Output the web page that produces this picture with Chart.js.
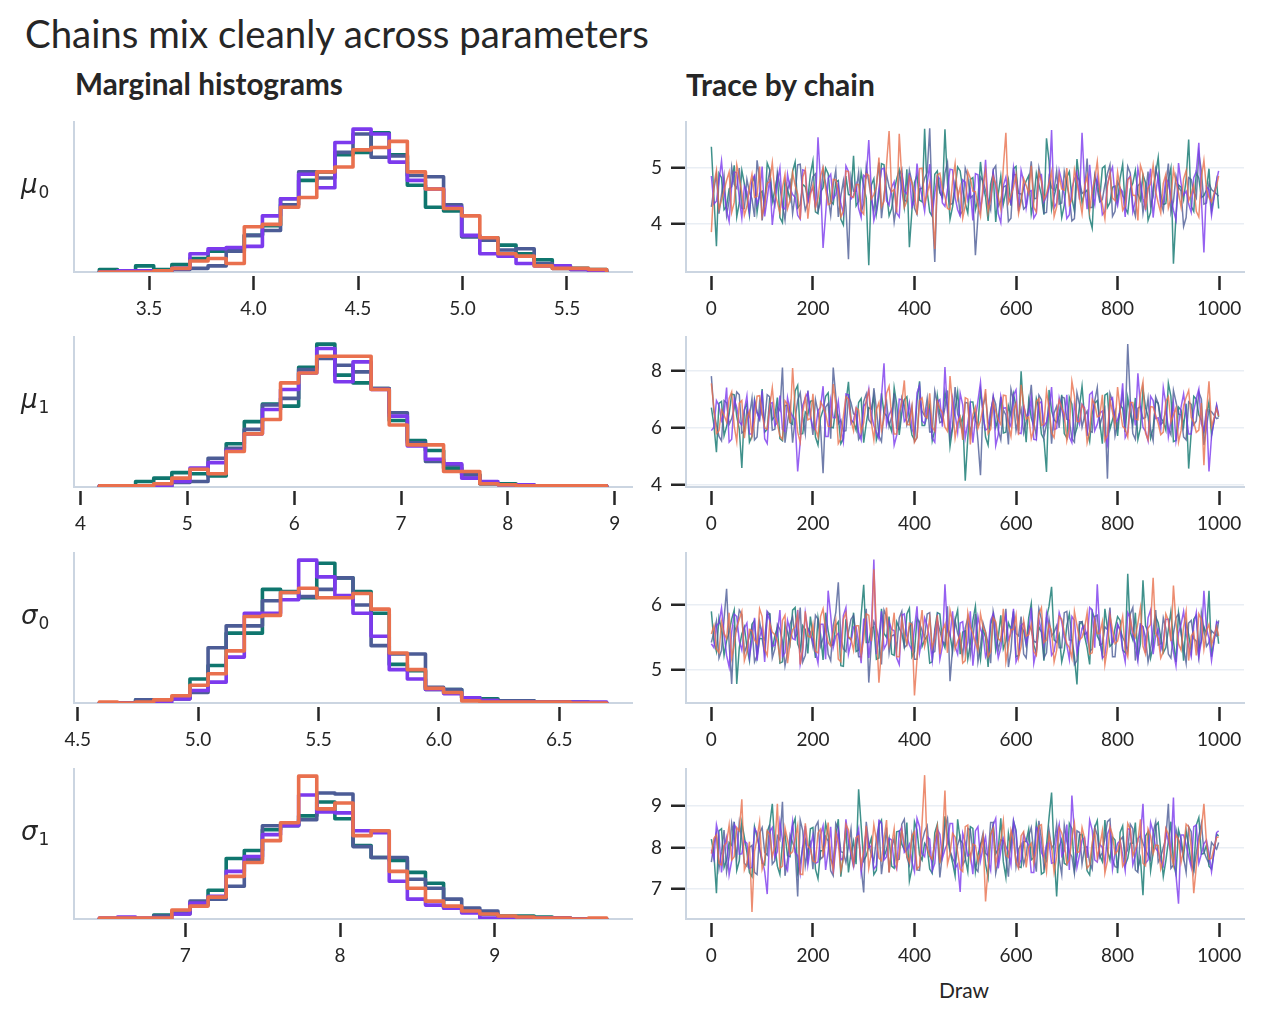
<!DOCTYPE html>
<html><head><meta charset="utf-8">
<script src="https://cdn.jsdelivr.net/npm/chart.js@4.4.1/dist/chart.umd.min.js"></script>
<style>
html,body{margin:0;padding:0;background:#fff;}
body{width:1263px;height:1023px;position:relative;overflow:hidden;font-family:Lato,"Noto Sans",sans-serif;color:#262626;}
.t{position:absolute;white-space:nowrap;line-height:1;}
canvas{position:absolute;}
.pl{position:absolute;left:21px;font-size:26px;line-height:1;white-space:nowrap;}
.pl i{font-family:"DejaVu Sans";font-style:italic;}
.pl sub{font-family:"DejaVu Sans";font-size:17px;vertical-align:baseline;position:relative;top:5px;margin-left:1px;}
</style></head><body>
<div id="title" class="t" style="left:25px;top:14px;font-size:34px;">Chains mix cleanly across parameters</div>
<div id="sub1" class="t" style="left:75px;top:69px;font-size:26px;font-weight:bold;">Marginal histograms</div>
<div id="sub2" class="t" style="left:686px;top:69px;font-size:26px;font-weight:bold;">Trace by chain</div>
<div id="xlab" class="t" style="left:964px;top:979px;font-size:21px;transform:translateX(-50%);">Draw</div>
<div id="stage"></div>
<script>
// ---------- data ----------
const chainColors = ['#0f766e', '#4c5c96', '#7c3aed', '#e9704e'];
const traceColors = ['rgba(15,118,110,0.8)', 'rgba(76,92,150,0.8)', 'rgba(124,58,237,0.8)', 'rgba(233,112,78,0.8)'];
const paramNames = ['μ', 'μ', 'σ', 'σ'];
const paramSubs = ['0', '1', '0', '1'];

// histogram data range (min, max of pooled draws) per parameter
const histLo = [3.262, 4.176, 4.590, 6.444];
const histHi = [5.690, 8.925, 6.697, 9.724];

// bin counts (28 bins) per chain: teal, slate, purple, orange
const mu0Hist = [
  [2,1,5,2,6,11,17,19,30,38,60,75,82,96,98,114,96,71,53,50,29,28,22,15,10,5,3,2],
  [0,0,1,1,2,3,5,17,30,34,55,82,77,98,113,94,95,79,78,55,29,26,18,19,7,3,2,1],
  [0,1,1,1,3,15,19,20,21,46,60,80,69,106,117,113,90,75,68,53,30,15,13,7,5,5,2,1],
  [0,0,0,1,3,9,11,7,37,39,53,61,82,86,100,102,107,82,68,52,46,28,15,13,5,3,3,2]
];
const mu1Hist = [
  [1,1,5,8,13,12,10,39,59,75,73,108,129,101,94,89,60,42,33,17,11,3,3,1,1,1,1,1],
  [1,1,1,1,4,5,26,35,52,74,80,106,116,110,104,89,67,40,23,20,11,3,2,2,1,1,1,1],
  [1,1,1,1,5,17,22,33,48,70,88,103,125,95,113,88,64,37,25,21,8,5,2,2,1,1,1,1],
  [1,1,1,3,8,16,12,32,48,61,94,103,118,118,118,88,56,38,38,14,14,3,2,1,1,1,1,1]
];
const sigma0Hist = [
  [0,0,3,3,5,23,36,67,67,109,107,101,134,120,107,86,37,31,13,13,5,4,2,2,1,1,0,0],
  [0,0,3,3,4,10,53,74,74,98,106,102,109,120,94,55,47,47,15,13,5,3,2,2,1,1,1,0],
  [0,0,0,1,4,12,20,44,86,86,99,137,121,103,86,64,32,23,13,9,5,2,1,1,1,1,1,1],
  [1,0,1,3,7,17,28,50,83,84,106,110,101,101,105,90,48,32,14,10,2,1,1,1,1,1,0,0]
];
const sigma1Hist = [
  [0,0,0,4,6,14,29,61,69,90,94,104,118,101,74,62,59,47,36,11,7,5,3,3,2,1,0,0],
  [0,0,0,3,5,18,20,33,60,94,95,100,127,126,73,62,62,40,31,20,11,8,2,1,1,1,0,0],
  [1,2,1,1,5,16,23,48,63,85,94,125,108,107,89,87,38,20,14,11,6,1,1,1,1,1,0,0],
  [1,1,1,1,9,13,22,43,57,79,97,144,111,117,84,89,48,31,18,13,8,5,3,2,1,1,0,1]
];

const histTickLabels = [
  ['3.5','4.0','4.5','5.0','5.5'],
  ['4','5','6','7','8','9'],
  ['4.5','5.0','5.5','6.0','6.5'],
  ['7','8','9']
];
const traceYTickLabels = [['4','5'], ['4','6','8'], ['5','6'], ['7','8','9']];
const drawTickLabels = ['0','200','400','600','800','1000'];

// draw indices of the recorded trace values
const draws = Array.from({length: 99}, (_, i) => i * 10).concat([999]);
const drawsMid = Array.from({length: 100}, (_, i) => i * 10 + 5);

const mu0Trace = [
  [5.37,3.60,4.82,4.31,4.66,4.12,4.95,4.47,4.73,4.20, 4.58,5.08,4.39,4.85,4.02,4.61,4.93,4.28,4.70,4.45,
   5.12,4.18,4.64,4.89,4.35,4.77,3.98,4.52,5.21,4.40, 4.67,3.26,4.80,4.49,5.05,4.14,4.59,4.96,4.30,3.58,
   4.73,4.42,5.69,4.21,4.88,4.55,5.68,4.08,4.62,4.94, 4.36,4.79,4.25,5.10,4.48,4.70,4.03,4.85,4.57,4.32,
   5.02,4.44,4.76,4.17,4.90,4.51,5.52,4.26,4.68,4.11, 4.83,4.46,5.15,4.37,4.60,3.92,4.74,4.99,4.29,4.65,
   4.41,5.06,4.19,4.72,4.53,4.87,4.06,4.63,5.18,4.34, 4.78,3.29,4.69,4.43,5.50,4.22,4.81,4.50,4.98,4.27],
  [4.30,4.88,4.52,4.15,5.01,4.63,4.27,4.79,4.44,5.13, 4.06,4.71,4.48,4.92,4.33,4.60,4.18,5.05,4.55,4.38,
   4.84,4.24,4.97,4.47,4.69,4.12,4.76,3.37,4.58,4.91, 4.36,4.74,4.21,5.09,4.50,4.66,4.03,4.86,4.42,4.95,
   4.28,4.62,4.81,5.70,3.32,4.57,4.90,4.34,4.73,4.16, 4.99,4.46,3.44,4.83,4.59,4.25,5.03,4.41,4.68,4.10,
   4.87,4.53,4.31,5.11,4.45,4.77,4.20,4.64,4.94,4.37, 4.70,4.05,4.85,4.54,5.16,4.29,4.61,4.43,4.89,4.13,
   4.75,4.50,5.02,4.32,4.67,4.19,4.93,4.48,4.80,4.23, 5.07,4.40,4.65,3.95,4.82,4.56,5.25,4.35,4.72,4.49],
  [4.85,4.40,5.12,4.23,4.68,4.91,4.10,4.57,4.78,4.34, 5.02,4.46,3.98,4.73,4.29,4.88,4.52,4.15,4.96,4.38,
   4.64,5.54,3.57,4.81,4.44,4.70,4.19,4.93,4.50,4.27, 4.86,5.49,4.06,4.62,4.99,4.33,4.75,4.12,4.58,4.90,
   4.41,4.69,4.22,5.06,4.55,4.80,4.31,4.97,4.47,4.14, 4.74,4.60,4.89,4.25,5.14,4.43,4.66,4.02,4.83,4.36,
   4.71,4.95,4.28,4.59,4.18,4.87,4.49,5.67,4.37,4.76, 4.09,4.63,4.92,5.62,4.26,4.54,4.84,4.16,4.70,5.01,
   4.32,4.57,4.79,4.21,4.98,4.45,4.67,4.11,4.86,4.39, 4.73,4.24,5.08,4.51,4.35,4.82,5.44,3.49,4.61,4.94],
  [3.85,4.95,4.42,4.77,4.20,5.05,4.56,4.31,4.88,4.49, 4.14,4.72,5.09,4.38,4.64,4.27,4.91,4.53,4.83,4.09,
   4.69,4.45,5.00,4.34,4.79,4.58,4.22,4.93,4.47,4.70, 4.17,4.86,4.52,5.18,4.40,5.65,4.61,5.60,4.29,4.84,
   4.55,4.98,4.36,4.73,3.55,4.90,4.48,4.25,5.07,4.66, 4.32,4.81,4.57,4.13,4.95,4.44,4.71,4.26,5.62,4.50,
   4.87,4.39,4.68,5.03,4.21,4.76,4.54,4.93,4.30,4.62, 4.99,4.43,4.74,4.18,4.85,4.59,5.11,4.35,4.67,4.46,
   4.92,4.24,4.78,4.51,4.06,4.89,4.63,5.04,4.37,4.72, 4.28,4.96,4.55,4.80,4.41,4.69,4.12,5.13,4.47,4.85]
];
const mu0TraceMid = [
  [4.48,4.90,4.25,4.62,5.04,4.37,4.71,4.15,4.83,4.54, 4.29,4.96,4.60,4.11,4.77,4.43,5.10,4.34,4.66,4.88,
   4.21,4.57,4.99,4.40,4.74,4.08,4.85,4.51,4.32,4.92, 4.45,4.69,4.18,5.07,4.56,4.27,4.80,4.63,4.97,4.24,
   4.87,4.39,4.58,4.13,4.94,4.47,4.72,4.30,5.01,4.61, 4.19,4.82,4.44,4.68,4.05,4.90,4.53,4.35,4.78,4.98,
   4.26,4.64,4.86,4.41,4.70,4.16,5.12,4.49,4.59,4.33, 4.93,4.22,4.75,4.55,4.10,4.84,4.46,5.03,4.38,4.67,
   4.81,4.28,4.62,4.95,4.42,4.73,4.20,4.89,4.52,4.36, 4.99,4.14,4.65,4.79,4.31,4.91,4.47,4.60,4.23,4.76],
  [4.62,4.18,4.85,4.41,4.70,4.99,4.27,4.56,4.12,4.80, 4.47,4.93,4.33,4.66,4.07,4.75,4.52,5.06,4.24,4.61,
   4.89,4.38,4.72,4.15,4.95,4.49,4.30,4.83,4.58,4.21, 5.02,4.44,4.68,4.10,4.87,4.55,4.34,4.97,4.40,4.74,
   4.17,4.63,4.91,4.28,4.79,4.46,5.09,4.36,4.59,4.23, 4.84,4.50,4.13,4.76,4.42,4.96,4.31,4.65,4.04,4.88,
   4.54,4.26,4.71,4.45,5.00,4.19,4.82,4.60,4.35,4.93, 4.48,4.09,4.77,4.57,4.29,4.86,4.39,4.69,5.05,4.22,
   4.64,4.43,4.90,4.14,4.73,4.51,4.32,4.98,4.40,4.67, 4.20,4.85,4.58,4.11,4.79,4.46,4.94,4.37,4.61,4.53],
  [4.35,4.76,4.59,4.04,4.92,4.45,4.67,4.21,4.86,4.50, 4.13,4.80,4.38,4.99,4.26,4.63,4.47,4.08,4.94,4.56,
   4.29,4.73,4.17,4.88,4.52,4.36,5.03,4.44,4.69,4.11, 4.82,4.58,4.24,4.97,4.41,4.65,4.19,4.90,4.53,4.30,
   5.07,4.48,4.71,4.14,4.84,4.37,4.61,4.96,4.25,4.78, 4.42,4.06,4.87,4.55,4.33,4.91,4.18,4.68,4.46,5.00,
   4.23,4.75,4.57,4.10,4.83,4.39,4.64,4.28,4.95,4.51, 4.16,4.79,4.43,4.70,5.05,4.34,4.60,4.22,4.89,4.47,
   4.63,4.12,4.85,4.40,4.74,4.27,4.98,4.54,4.31,4.81, 4.49,4.07,4.72,4.58,4.20,4.93,4.44,4.66,4.15,4.77],
  [4.70,4.26,4.59,4.92,4.38,4.81,4.15,4.64,4.47,5.02, 4.33,4.75,4.55,4.19,4.88,4.42,4.68,4.08,4.97,4.51,
   4.28,4.85,4.61,4.36,4.78,4.12,4.94,4.49,4.70,4.23, 4.89,4.44,4.66,4.30,5.06,4.57,4.20,4.82,4.40,4.73,
   4.16,4.99,4.52,4.35,4.87,4.62,4.27,4.76,4.45,4.10, 4.93,4.58,4.31,4.69,4.21,4.84,4.48,5.01,4.37,4.65,
   4.18,4.80,4.54,4.29,4.91,4.43,4.72,4.13,4.86,4.60, 4.34,4.96,4.46,4.67,4.24,4.79,4.56,4.09,4.90,4.41,
   4.63,4.32,4.83,4.50,5.04,4.25,4.71,4.57,4.19,4.88, 4.44,4.74,4.30,4.95,4.53,4.22,4.81,4.62,4.39,4.68]
];
const mu1Trace = [
  [6.70,5.15,6.92,6.05,7.18,6.40,4.60,6.85,5.70,6.55, 7.35,5.95,6.28,7.05,5.55,6.78,6.12,7.48,5.80,6.45,
   6.95,5.40,6.62,7.22,6.00,6.38,5.62,7.60,6.20,6.88, 5.48,6.70,7.12,5.88,6.52,6.15,7.40,5.75,6.98,6.30,
   5.58,7.62,6.08,6.80,5.92,6.48,7.25,5.35,6.65,6.10, 4.16,6.90,6.25,7.30,5.68,6.58,6.02,7.08,5.85,6.42,
   6.75,7.97,5.50,6.35,7.02,5.78,4.46,6.60,6.18,7.15, 5.65,6.82,6.00,7.45,5.90,6.50,6.95,5.45,7.20,6.28,
   5.72,6.68,7.05,6.12,5.60,7.35,6.40,5.98,6.85,6.22, 7.55,5.52,6.72,6.05,4.58,7.10,6.45,5.82,6.90,6.38],
  [7.80,6.10,5.55,6.88,6.32,7.25,5.82,6.60,7.02,5.68, 6.45,7.15,5.92,6.72,8.10,6.20,5.48,6.95,6.38,7.30,
   5.75,6.55,4.42,6.85,8.10,6.15,5.88,7.10,6.48,5.60, 6.92,6.28,7.38,5.72,6.62,6.05,7.20,5.95,6.78,6.35,
   5.52,7.05,6.42,5.85,7.28,6.18,6.70,5.65,7.42,6.25, 6.88,5.78,6.50,4.35,7.12,6.08,6.82,5.58,6.45,7.35,
   5.90,6.65,6.22,7.50,5.70,6.98,6.12,5.45,6.75,7.08, 6.30,5.62,7.22,6.02,6.58,5.85,7.40,6.40,4.23,6.92,
   6.15,7.18,8.92,5.80,6.68,6.32,7.02,5.55,6.85,6.20, 5.98,7.30,6.48,5.68,6.90,6.10,7.25,5.40,6.62,6.35],
  [5.90,6.95,6.25,7.40,5.60,6.70,6.10,7.12,5.78,6.52, 7.30,5.45,6.88,6.18,5.95,7.05,6.40,4.48,6.78,7.22,
   6.02,6.60,7.45,5.70,6.35,6.92,5.52,7.15,6.28,5.85, 6.75,7.35,6.08,5.62,8.25,6.45,5.40,7.00,6.22,6.85,
   5.75,7.48,6.15,6.62,5.50,6.98,8.12,5.88,6.48,7.20, 5.65,6.80,6.32,7.58,5.92,6.55,5.38,7.10,6.70,6.05,
   7.32,5.80,6.42,7.02,5.58,6.90,6.20,7.42,5.98,6.65, 7.15,5.48,6.38,6.82,5.72,7.25,6.12,6.58,5.42,7.05,
   6.28,7.55,5.85,6.72,7.90,6.02,5.55,6.95,6.35,7.40, 5.68,6.85,6.10,7.18,5.78,6.60,7.35,5.90,4.48,6.45],
  [7.55,5.80,6.62,6.20,7.25,5.52,6.95,6.35,5.72,7.10, 6.48,5.95,7.40,6.15,5.60,6.82,8.08,5.85,6.55,6.28,
   7.18,5.68,6.75,6.05,7.52,5.45,6.40,7.00,5.90,6.62, 6.18,7.28,5.58,6.88,6.32,7.45,5.78,6.52,7.65,6.10,
   5.50,6.95,6.42,7.20,5.88,6.68,6.02,7.80,5.65,6.38, 7.05,5.42,6.72,6.25,7.35,5.95,6.58,6.12,7.12,5.70,
   6.85,7.50,6.30,5.62,6.92,6.08,7.28,5.82,6.48,6.70, 5.55,7.62,6.22,6.80,5.48,6.98,6.38,7.15,5.75,6.55,
   7.42,6.05,5.68,6.88,6.28,7.60,5.58,6.72,6.15,5.85, 7.08,6.45,5.50,6.78,7.30,6.20,5.92,4.70,7.62,6.40]
];
const mu1TraceMid = [
  [6.10,6.85,5.72,6.48,7.15,5.95,6.62,5.50,6.98,6.30, 5.85,7.05,6.40,5.62,6.78,6.18,7.28,5.78,6.55,6.92,
   5.68,6.35,7.10,6.02,6.70,5.45,6.88,6.25,5.92,7.02, 6.15,6.65,5.58,7.20,6.42,5.88,6.82,6.50,7.08,5.75,
   6.95,6.08,6.45,5.55,7.12,6.22,6.72,5.98,7.25,6.38, 5.65,6.90,6.12,6.60,5.40,7.00,6.32,5.82,6.76,7.18,
   5.90,6.52,6.96,6.05,6.68,5.60,7.32,6.28,6.44,5.80, 7.06,5.70,6.74,6.36,5.52,6.86,6.20,7.14,5.95,6.58,
   6.80,5.86,6.48,7.04,6.00,6.70,5.64,6.94,6.34,5.92, 7.10,5.56,6.62,6.84,5.84,7.00,6.26,6.46,5.74,6.76],
  [6.55,5.70,6.95,6.12,6.68,7.15,5.88,6.40,5.58,6.90, 6.25,7.08,5.95,6.60,5.48,6.78,6.32,7.22,5.80,6.50,
   6.98,6.05,6.72,5.62,7.12,6.28,5.90,6.88,6.45,5.75, 7.18,6.15,6.65,5.52,6.92,6.38,5.98,7.05,6.10,6.75,
   5.65,6.58,7.02,5.85,6.82,6.22,7.30,6.02,6.48,5.78, 6.86,6.30,5.55,6.76,6.18,7.10,5.92,6.62,5.42,6.96,
   6.35,5.82,6.70,6.20,7.14,5.68,6.88,6.52,6.00,7.04, 6.26,5.50,6.80,6.42,5.88,6.94,6.08,6.66,7.20,5.72,
   6.60,6.16,6.98,5.60,6.74,6.36,5.94,7.08,6.12,6.64, 5.76,6.90,6.44,5.58,6.82,6.24,7.00,6.04,6.56,6.32],
  [6.02,6.78,6.48,5.50,7.00,6.20,6.62,5.78,6.92,6.30, 5.62,6.84,6.08,7.12,5.88,6.58,6.26,5.52,7.05,6.40,
   5.92,6.72,5.70,6.96,6.36,6.00,7.18,6.14,6.66,5.58, 6.88,6.46,5.84,7.08,6.10,6.64,5.74,6.98,6.34,5.96,
   7.22,6.24,6.70,5.64,6.90,6.04,6.54,7.02,5.86,6.80, 6.16,5.48,6.94,6.38,5.98,7.06,5.76,6.68,6.22,7.14,
   5.82,6.76,6.44,5.60,6.86,6.06,6.60,5.94,7.04,6.28, 5.68,6.82,6.12,6.70,7.16,5.90,6.52,5.80,6.96,6.18,
   6.58,5.66,6.92,6.08,6.74,5.88,7.10,6.32,5.96,6.84, 6.22,5.54,6.72,6.46,5.78,7.02,6.14,6.64,5.70,6.80],
  [6.68,5.90,6.44,7.02,6.06,6.86,5.64,6.58,6.24,7.12, 6.00,6.76,6.40,5.72,6.94,6.16,6.66,5.50,7.06,6.32,
   5.96,6.90,6.50,6.04,6.80,5.62,7.08,6.26,6.70,5.84, 6.96,6.20,6.62,5.92,7.20,6.42,5.78,6.88,6.12,6.74,
   5.68,7.04,6.34,6.02,6.92,6.52,5.88,6.78,6.18,5.58, 7.00,6.46,5.98,6.72,5.80,6.90,6.28,7.14,6.08,6.60,
   5.74,6.84,6.38,5.94,7.02,6.14,6.70,5.66,6.96,6.48, 6.00,7.10,6.22,6.64,5.86,6.82,6.42,5.56,6.98,6.10,
   6.62,5.96,6.88,6.30,7.16,5.82,6.74,6.44,5.76,6.92, 6.20,6.70,5.90,7.06,6.36,5.84,6.86,6.52,6.04,6.66]
];
const sigma0Trace = [
  [5.90,5.28,5.62,5.45,5.78,4.78,5.55,5.35,5.70,5.20, 5.48,5.85,5.32,5.65,5.12,5.58,5.92,5.40,5.68,5.25,
   5.52,5.80,5.15,5.60,5.38,5.74,5.05,5.50,5.88,5.30, 6.31,5.42,5.66,5.18,5.56,5.82,5.22,5.64,5.36,5.95,
   5.28,5.72,5.46,5.10,5.62,5.86,5.34,5.54,5.76,5.24, 5.60,5.40,5.98,5.16,5.50,5.70,5.30,5.84,5.44,5.62,
   5.20,5.66,5.38,6.02,5.26,5.58,5.80,6.28,5.42,5.12, 5.68,5.48,4.77,5.74,5.34,5.90,5.52,5.22,5.64,5.40,
   5.82,5.30,6.48,5.46,5.18,6.38,5.58,5.36,5.72,5.26, 5.62,5.44,5.88,5.14,5.54,5.78,5.32,5.66,6.22,5.40],
  [5.42,5.75,5.30,6.25,4.78,5.60,5.85,5.38,5.66,5.22, 5.52,5.90,5.18,5.70,5.44,5.28,5.82,5.56,5.12,5.64,
   5.36,5.78,5.48,5.24,5.68,6.35,5.32,5.58,5.84,5.20, 5.62,4.80,5.74,5.46,5.92,5.26,5.54,5.80,5.34,5.66,
   5.16,5.72,5.50,5.88,5.28,5.60,5.40,4.82,5.76,5.44, 5.64,5.22,5.86,5.36,5.58,5.10,5.70,5.48,5.94,5.30,
   5.56,5.82,5.18,5.62,5.42,5.78,5.26,5.52,5.68,5.34, 5.90,5.46,5.14,5.74,5.58,5.32,5.84,5.40,5.62,5.20,
   5.70,5.50,5.28,5.96,5.44,5.66,5.12,5.60,5.38,5.80, 5.24,5.56,5.86,5.34,5.72,5.48,5.18,5.64,5.42,5.76],
  [5.40,5.68,5.95,5.22,5.58,5.82,5.30,5.72,5.46,5.14, 5.64,5.88,5.36,5.54,5.20,5.76,5.48,5.92,5.28,5.62,
   5.44,5.10,5.70,6.22,5.34,5.56,5.84,5.24,5.66,5.42, 5.78,5.18,6.70,5.50,5.32,5.74,5.60,5.08,5.86,5.38,
   5.64,5.26,5.80,5.46,5.58,5.16,6.32,5.52,5.36,5.72, 5.28,5.90,5.44,5.62,5.20,5.76,5.48,5.34,5.84,5.56,
   5.12,5.68,5.40,5.96,5.30,5.60,5.86,5.22,5.54,5.74, 5.38,5.82,5.26,5.64,5.46,5.92,6.32,5.18,5.58,5.42,
   5.70,5.32,5.88,5.50,5.14,5.66,5.80,5.24,5.62,5.44, 5.78,5.28,5.56,5.90,5.36,5.68,5.20,6.22,5.48,5.72],
  [5.55,5.32,5.74,5.48,5.18,5.66,5.90,5.28,5.60,5.40, 5.82,5.22,5.58,5.44,5.76,5.10,5.62,5.86,5.34,5.52,
   5.70,5.26,5.94,5.42,5.58,5.16,5.78,5.50,5.30,5.68, 5.46,5.84,6.55,4.80,5.64,5.38,5.88,5.20,5.56,5.72,
   4.60,5.60,5.36,5.80,5.48,5.24,5.70,5.92,5.32,5.54, 5.14,5.66,5.42,5.86,5.58,5.28,5.74,5.44,5.12,5.62,
   5.84,5.36,5.52,5.70,5.22,5.96,5.46,5.60,5.30,5.78, 5.40,5.18,5.68,5.50,5.88,5.26,5.56,5.74,5.34,5.62,
   5.44,5.82,5.20,5.58,5.72,5.36,5.64,6.42,5.48,5.28, 5.76,6.30,5.40,5.66,5.14,5.58,5.86,5.32,5.70,5.52]
];
const sigma0TraceMid = [
  [5.44,5.80,5.22,5.58,5.92,5.34,5.66,5.14,5.76,5.48, 5.26,5.86,5.52,5.10,5.70,5.40,5.96,5.30,5.62,5.82,
   5.18,5.54,5.88,5.38,5.68,5.06,5.78,5.46,5.28,5.84, 5.42,5.64,5.16,5.94,5.50,5.24,5.74,5.56,5.86,5.20,
   5.80,5.36,5.52,5.12,5.88,5.44,5.66,5.28,5.92,5.58, 5.16,5.76,5.42,5.62,5.04,5.84,5.50,5.32,5.72,5.90,
   5.22,5.60,5.80,5.38,5.66,5.14,5.98,5.46,5.54,5.30, 5.86,5.20,5.70,5.52,5.08,5.78,5.44,5.94,5.36,5.64,
   5.76,5.26,5.58,5.88,5.40,5.68,5.18,5.82,5.50,5.34, 5.90,5.12,5.62,5.74,5.28,5.84,5.44,5.56,5.20,5.70],
  [5.58,5.18,5.78,5.40,5.66,5.92,5.26,5.52,5.12,5.74, 5.46,5.86,5.32,5.62,5.06,5.70,5.50,5.96,5.22,5.58,
   5.84,5.36,5.68,5.14,5.88,5.48,5.28,5.78,5.54,5.20, 5.94,5.42,5.64,5.08,5.82,5.52,5.32,5.90,5.38,5.72,
   5.16,5.60,5.86,5.26,5.76,5.44,5.98,5.34,5.56,5.22, 5.80,5.48,5.12,5.72,5.40,5.90,5.30,5.62,5.04,5.84,
   5.52,5.24,5.68,5.44,5.94,5.18,5.78,5.58,5.34,5.88, 5.46,5.08,5.74,5.54,5.28,5.82,5.38,5.66,5.96,5.20,
   5.62,5.42,5.86,5.14,5.70,5.50,5.32,5.92,5.40,5.64, 5.18,5.80,5.56,5.10,5.76,5.44,5.88,5.36,5.60,5.52],
  [5.34,5.72,5.56,5.04,5.86,5.44,5.64,5.20,5.80,5.50, 5.12,5.76,5.38,5.92,5.26,5.60,5.46,5.08,5.88,5.54,
   5.28,5.70,5.16,5.84,5.52,5.36,5.96,5.42,5.66,5.10, 5.78,5.56,5.24,5.90,5.40,5.62,5.18,5.84,5.52,5.30,
   5.98,5.48,5.68,5.14,5.80,5.36,5.60,5.90,5.24,5.74, 5.42,5.06,5.82,5.54,5.32,5.86,5.18,5.66,5.46,5.94,
   5.22,5.72,5.56,5.10,5.78,5.38,5.62,5.28,5.88,5.50, 5.16,5.76,5.42,5.68,5.96,5.34,5.58,5.22,5.84,5.46,
   5.60,5.12,5.80,5.40,5.70,5.26,5.92,5.52,5.30,5.78, 5.48,5.06,5.70,5.56,5.20,5.88,5.44,5.64,5.14,5.74],
  [5.68,5.26,5.56,5.88,5.38,5.78,5.14,5.62,5.46,5.94, 5.32,5.72,5.54,5.18,5.84,5.42,5.66,5.08,5.90,5.50,
   5.28,5.82,5.60,5.36,5.76,5.12,5.88,5.48,5.68,5.22, 5.86,5.44,5.64,5.30,5.96,5.56,5.20,5.78,5.40,5.70,
   5.16,5.92,5.52,5.34,5.84,5.60,5.26,5.74,5.44,5.10, 5.88,5.56,5.30,5.66,5.20,5.80,5.48,5.94,5.36,5.62,
   5.18,5.76,5.54,5.28,5.86,5.42,5.70,5.12,5.82,5.58, 5.34,5.90,5.46,5.64,5.24,5.76,5.56,5.08,5.84,5.40,
   5.62,5.32,5.80,5.50,5.96,5.24,5.70,5.56,5.18,5.86, 5.44,5.72,5.30,5.90,5.52,5.22,5.78,5.60,5.38,5.66]
];
const sigma1Trace = [
  [8.20,6.90,8.45,7.70,8.05,7.45,8.60,7.88,7.30,8.25, 7.62,8.38,9.05,7.55,8.12,7.80,8.52,7.38,8.00,7.72,
   8.48,7.25,7.92,8.30,7.58,8.68,7.85,7.40,8.15,9.40, 7.68,8.02,7.35,8.55,7.78,8.22,7.50,8.40,7.95,7.20,
   8.62,7.82,8.10,7.48,8.35,7.65,8.75,7.90,7.32,8.18, 7.75,8.50,7.42,8.08,7.60,8.28,7.85,8.70,7.28,7.98,
   8.42,7.52,8.15,7.70,8.58,7.36,8.05,9.32,6.82,8.20, 7.58,8.45,7.80,8.32,7.44,8.00,8.65,7.66,7.92,8.25,
   7.38,8.52,7.74,8.10,7.50,6.85,8.38,7.88,8.60,7.30, 8.15,7.62,8.42,7.78,8.05,7.45,8.72,7.86,7.55,8.28],
  [7.65,8.35,7.90,7.42,8.58,7.75,8.20,7.55,8.05,7.35, 8.48,7.82,7.60,8.28,9.10,7.70,8.12,6.82,8.40,7.95,
   7.48,8.62,7.78,8.15,7.32,8.45,7.88,8.02,7.52,8.30, 6.92,8.10,7.68,8.55,7.85,7.40,8.22,7.72,8.68,7.58,
   8.00,7.45,8.38,7.80,8.12,7.28,8.50,7.92,7.62,8.25, 7.70,8.42,7.50,8.05,7.86,8.60,7.38,8.18,7.75,8.32,
   7.55,8.08,7.82,8.48,7.42,8.20,7.68,7.98,8.55,7.35, 8.15,7.78,8.40,7.60,8.02,7.48,8.30,7.88,8.62,7.72,
   7.52,8.25,7.95,8.45,7.40,8.10,7.82,8.35,7.65,8.00, 9.05,7.58,8.18,7.75,8.50,7.44,8.28,7.90,7.62,8.12],
  [7.95,8.55,7.40,8.25,7.68,8.42,7.85,8.10,7.52,8.35, 7.72,6.88,8.48,7.90,8.18,7.45,8.62,7.80,8.05,7.58,
   8.30,7.65,8.52,7.92,7.38,8.40,7.75,8.15,7.55,8.45, 7.82,8.00,7.48,8.65,7.70,8.22,7.60,8.38,7.88,8.08,
   7.42,8.50,7.78,8.20,7.62,8.32,7.95,8.58,7.50,6.93, 8.12,7.85,8.40,7.68,8.25,7.45,8.70,7.92,8.02,7.58,
   8.35,7.72,8.15,7.40,8.48,7.88,8.05,7.62,8.28,7.80, 8.55,9.25,7.52,8.18,7.75,8.42,7.65,8.00,8.32,7.48,
   8.10,7.82,8.45,7.58,8.22,9.05,7.70,8.38,7.90,7.55, 8.15,9.20,6.65,8.30,7.78,8.50,7.62,8.08,7.85,8.40],
  [7.85,8.30,7.58,8.12,7.70,8.48,9.16,7.62,6.45,8.22, 7.48,8.40,7.78,9.05,7.55,8.18,7.90,8.52,7.35,8.05,
   7.68,8.35,7.82,8.60,7.45,8.10,7.72,8.42,7.60,8.28, 7.92,7.50,8.55,7.75,8.20,7.40,8.45,7.88,8.08,7.65,
   8.38,7.55,9.74,7.80,8.15,7.62,9.37,7.85,8.25,7.48, 8.50,7.72,8.05,7.90,6.70,8.32,7.58,8.18,7.82,8.42,
   7.65,8.28,7.52,8.10,7.95,8.55,7.42,8.02,7.78,8.35, 7.60,8.22,7.88,8.48,7.50,8.12,7.75,8.40,7.68,8.30,
   7.92,7.55,8.58,7.80,8.15,7.62,8.45,7.85,8.05,7.70, 8.32,7.58,8.20,7.95,8.50,6.90,8.10,9.05,7.72,8.25]
];
const sigma1TraceMid = [
  [7.85,8.40,7.52,8.12,8.62,7.68,8.25,7.40,8.50,7.98, 7.58,8.55,8.05,7.35,8.32,7.78,8.70,7.62,8.18,8.45,
   7.48,7.92,8.58,7.72,8.28,7.30,8.48,7.88,7.60,8.52, 7.80,8.22,7.45,8.66,7.95,7.55,8.38,8.08,8.60,7.50,
   8.42,7.70,8.00,7.38,8.56,7.84,8.26,7.64,8.68,8.10, 7.42,8.46,7.82,8.20,7.28,8.54,7.96,7.66,8.34,8.64,
   7.54,8.14,8.44,7.76,8.24,7.40,8.72,7.86,8.02,7.62, 8.58,7.46,8.30,7.98,7.34,8.48,7.80,8.66,7.70,8.18,
   8.36,7.58,8.10,8.60,7.74,8.28,7.44,8.52,7.92,7.68, 8.62,7.36,8.20,8.40,7.60,8.54,7.84,8.06,7.48,8.32],
  [8.10,7.50,8.42,7.78,8.22,8.60,7.62,8.00,7.40,8.35, 7.88,8.55,7.68,8.18,7.32,8.30,7.95,8.66,7.56,8.12,
   8.50,7.72,8.26,7.44,8.58,7.90,7.64,8.44,8.04,7.52, 8.62,7.82,8.20,7.36,8.48,7.98,7.70,8.56,7.76,8.32,
   7.46,8.14,8.52,7.66,8.38,7.86,8.70,7.74,8.06,7.58, 8.46,7.92,7.42,8.34,7.80,8.60,7.68,8.16,7.30,8.50,
   7.96,7.60,8.28,7.84,8.64,7.52,8.42,8.08,7.72,8.54, 7.88,7.38,8.36,8.00,7.64,8.48,7.76,8.24,8.68,7.54,
   8.18,7.82,8.56,7.46,8.30,7.94,7.70,8.62,7.78,8.22, 7.50,8.44,8.04,7.40,8.38,7.86,8.58,7.74,8.12,7.96],
  [7.72,8.28,8.02,7.34,8.56,7.84,8.16,7.50,8.46,7.96, 7.42,8.38,7.76,8.62,7.58,8.12,7.88,7.38,8.52,8.00,
   7.62,8.30,7.46,8.50,7.98,7.70,8.68,7.82,8.20,7.40, 8.42,8.04,7.56,8.60,7.78,8.18,7.48,8.48,7.94,7.66,
   8.70,7.86,8.26,7.44,8.44,7.74,8.10,8.58,7.60,8.34, 7.80,7.36,8.50,8.00,7.68,8.54,7.50,8.22,7.90,8.64,
   7.54,8.32,8.06,7.40,8.40,7.76,8.14,7.64,8.56,7.92, 7.46,8.36,7.82,8.24,8.66,7.70,8.08,7.58,8.48,7.86,
   8.16,7.44,8.44,7.80,8.28,7.62,8.60,7.98,7.68,8.40, 7.90,7.34,8.30,8.06,7.52,8.54,7.84,8.18,7.42,8.36],
  [8.22,7.62,8.04,8.54,7.78,8.40,7.46,8.14,7.90,8.62, 7.70,8.32,8.02,7.50,8.48,7.84,8.20,7.36,8.58,7.96,
   7.64,8.44,8.10,7.74,8.36,7.44,8.56,7.92,8.24,7.56, 8.52,7.86,8.18,7.68,8.66,8.06,7.54,8.42,7.80,8.28,
   7.48,8.60,7.98,7.72,8.50,8.12,7.60,8.34,7.88,7.42, 8.54,8.08,7.66,8.26,7.52,8.46,7.94,8.64,7.76,8.16,
   7.50,8.38,8.00,7.62,8.52,7.82,8.30,7.40,8.48,8.10, 7.70,8.58,7.90,8.22,7.58,8.40,8.04,7.38,8.50,7.84,
   8.18,7.66,8.44,7.96,8.68,7.56,8.28,8.06,7.48,8.46, 7.86,8.30,7.64,8.56,8.00,7.54,8.42,8.12,7.74,8.24]
];

const histSets = [mu0Hist, mu1Hist, sigma0Hist, sigma1Hist];
const traceSets = [mu0Trace, mu1Trace, sigma0Trace, sigma1Trace];
const traceMidSets = [mu0TraceMid, mu1TraceMid, sigma0TraceMid, sigma1TraceMid];

// ---------- layout ----------
const rowTop = [122, 337, 553, 769];
const rowH = 150;
const colLeft = [74, 686];
const colW = 558;
const YW = 80, PT = 30, PR = 34, XH = 62;
const FONT = 'Lato';
const INK = '#262626';
const SPINE = '#cbd5e1';

function fitWidth(id, target) {
  const el = document.getElementById(id);
  const fs = parseFloat(el.style.fontSize);
  el.style.fontSize = (fs * target / el.getBoundingClientRect().width) + 'px';
}
fitWidth('title', 624);
fitWidth('sub1', 268);
fitWidth('sub2', 189);

const stage = document.getElementById('stage');
function makeCanvas(L, T) {
  const c = document.createElement('canvas');
  const w = colW + YW + PR, h = rowH + PT + XH;
  c.width = w; c.height = h;
  c.style.left = (L - YW) + 'px'; c.style.top = (T - PT) + 'px';
  c.style.width = w + 'px'; c.style.height = h + 'px';
  stage.appendChild(c);
  return c;
}

function xAxis(min, max, labels) {
  const vals = labels.map(Number);
  return {
    type: 'linear', min: min, max: max,
    afterBuildTicks: s => { s.ticks = vals.map(v => ({value: v})); },
    afterFit: s => { s.height = XH; },
    ticks: {callback: (v, i) => labels[i], font: {family: FONT, size: 19}, color: INK,
            padding: 7, maxRotation: 0, autoSkip: false},
    grid: {drawOnChartArea: false, drawTicks: true, tickLength: 18, tickColor: INK, tickWidth: 2.5,
           tickBorderDash: [14, 3], tickBorderDashOffset: 14},
    border: {display: true, color: SPINE, width: 2}
  };
}

function baseOpts(scales) {
  return {
    responsive: false, animation: false, events: [],
    devicePixelRatio: 1,
    layout: {padding: {top: PT, right: PR, left: 0, bottom: 0}},
    plugins: {legend: {display: false}, tooltip: {enabled: false}},
    elements: {point: {radius: 0}, line: {tension: 0}},
    scales: scales
  };
}

function stepPoints(lo, hi, counts) {
  const n = counts.length, w = (hi - lo) / n;
  const pts = [{x: lo, y: 0}];
  for (let i = 0; i < n; i++) {
    pts.push({x: lo + i * w, y: counts[i]}, {x: lo + (i + 1) * w, y: counts[i]});
  }
  pts.push({x: hi, y: 0});
  return pts;
}

for (let r = 0; r < 4; r++) {
  const lo = histLo[r], hi = histHi[r], span = hi - lo;
  const xmin = lo - 0.05 * span, xmax = hi + 0.05 * span;

  // row label
  const lab = document.createElement('div');
  lab.className = 'pl';
  lab.innerHTML = '<i>' + paramNames[r] + '</i><sub>' + paramSubs[r] + '</sub>';
  lab.style.top = (rowTop[r] + 63 - 15) + 'px';
  document.body.appendChild(lab);

  // histogram
  const hs = histSets[r];
  let cmax = 0;
  hs.forEach(a => a.forEach(v => { if (v > cmax) cmax = v; }));
  const hc = makeCanvas(colLeft[0], rowTop[r]);
  new Chart(hc, {
    type: 'line',
    data: {datasets: hs.map((counts, k) => ({
      data: stepPoints(lo, hi, counts), borderColor: chainColors[k], borderWidth: 3.6,
      borderJoinStyle: 'round', borderCapStyle: 'round', fill: false, clip: 0, order: 3 - k
    }))},
    options: baseOpts({
      x: xAxis(xmin, xmax, histTickLabels[r]),
      y: {type: 'linear', min: 0, max: cmax * 1.05,
          afterFit: s => { s.width = YW; },
          ticks: {display: false},
          grid: {display: true, drawOnChartArea: false, drawTicks: false},
          border: {display: true, color: SPINE, width: 2}}
    })
  });

  // trace
  const ts = traceSets[r], tm = traceMidSets[r];
  const tc = makeCanvas(colLeft[1], rowTop[r]);
  const yl = traceYTickLabels[r];
  const yv = yl.map(Number);
  new Chart(tc, {
    type: 'line',
    data: {datasets: ts.map((vals, k) => ({
      data: vals.map((v, i) => ({x: draws[i], y: v}))
              .concat(tm[k].map((v, i) => ({x: drawsMid[i], y: v})))
              .sort((a, b) => a.x - b.x),
      borderColor: traceColors[k], borderWidth: 1.5, fill: false, order: 3 - k
    }))},
    options: baseOpts({
      x: xAxis(-49.95, 1048.95, drawTickLabels),
      y: {type: 'linear', min: xmin, max: xmax,
          afterBuildTicks: s => { s.ticks = yv.map(v => ({value: v})); },
          afterFit: s => { s.width = YW; },
          ticks: {callback: (v, i) => yl[i], font: {family: FONT, size: 19}, color: INK, padding: 9},
          grid: {drawOnChartArea: true, color: '#e9eef4', lineWidth: 1.5, drawTicks: true,
                 tickLength: 15, tickColor: INK, tickWidth: 2.5},
          border: {display: true, color: SPINE, width: 2}}
    })
  });
}
</script>
</body></html>
